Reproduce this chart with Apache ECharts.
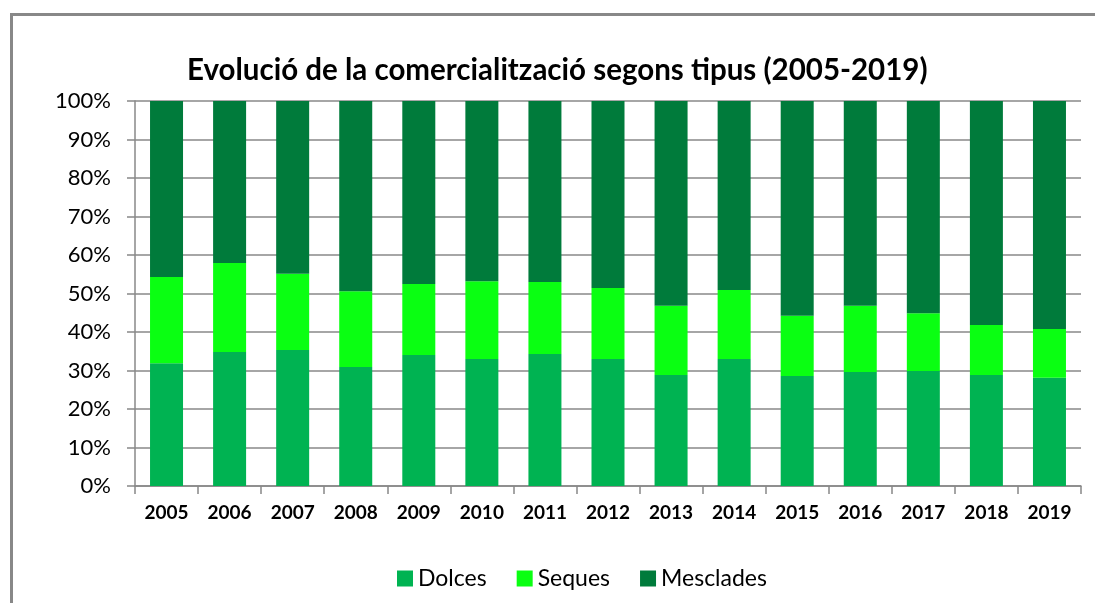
<!DOCTYPE html>
<html>
<head>
<meta charset="utf-8">
<script src="https://cdn.jsdelivr.net/npm/echarts@6/dist/echarts.min.js"></script>
<style>
html,body{margin:0;padding:0;background:#fff;}
#chart{width:1095px;height:603px;}
</style>
</head>
<body>
<div id="chart"></div>
<script>
const years = ['2005','2006','2007','2008','2009','2010','2011','2012','2013','2014','2015','2016','2017','2018','2019'];
const dolces    = [31.9, 34.8, 35.3, 30.9, 34.0, 33.0, 34.3, 33.0, 28.8, 33.0, 28.6, 29.6, 29.9, 28.8, 28.1];
const seques    = [22.4, 23.1, 19.8, 19.7, 18.5, 20.2, 18.7, 18.4, 18.0, 17.9, 15.6, 17.2, 15.0, 13.0, 12.7];
const mesclades = [45.7, 42.1, 44.9, 49.4, 47.5, 46.8, 47.0, 48.6, 53.2, 49.1, 55.8, 53.2, 55.1, 58.2, 59.2];
const seriesNames = ['Dolces', 'Seques', 'Mesclades'];
const titleText = 'Evolució de la comercialització segons tipus (2005-2019)';

const font = 'Lato, "Open Sans", sans-serif';
const chart = echarts.init(document.getElementById('chart'), null, {renderer: 'canvas'});
const colors = ['#00b352', '#0aff12', '#007b3b'];
const dataSets = [dolces, seques, mesclades];

chart.setOption({
  animation: false,
  backgroundColor: '#ffffff',
  title: {
    text: titleText,
    left: 182,
    top: 50,
    textStyle: {fontFamily: font, fontSize: 29.5, fontWeight: 'bold', color: '#000'}
  },
  legend: {
    data: seriesNames,
    bottom: 8,
    left: 392,
    icon: 'rect',
    itemWidth: 16,
    itemHeight: 16,
    itemGap: 30,
    textStyle: {fontFamily: font, fontSize: 23, color: '#000'}
  },
  grid: {left: 135, right: 14, top: 101, bottom: 117, containLabel: false},
  xAxis: {
    type: 'category',
    data: years,
    boundaryGap: true,
    axisLine: {show: true, lineStyle: {color: '#888', width: 1.5}},
    axisTick: {show: true, length: 8, alignWithLabel: false, lineStyle: {color: '#888', width: 1.5}},
    axisLabel: {fontFamily: font, fontSize: 19, fontWeight: 'bold', color: '#000', margin: 17, interval: 0}
  },
  yAxis: {
    type: 'value',
    min: 0,
    max: 100,
    interval: 10,
    axisLine: {show: true, lineStyle: {color: '#888', width: 1.5}},
    axisTick: {show: true, length: 8, lineStyle: {color: '#888', width: 1.5}},
    splitLine: {show: true, lineStyle: {color: '#888', width: 1.5}},
    axisLabel: {fontFamily: font, fontSize: 22, color: '#000', margin: 24, formatter: '{value}%'}
  },
  graphic: [{
    type: 'rect',
    shape: {x: 11.5, y: 14.5, width: 1200, height: 800},
    style: {fill: 'none', stroke: '#888', lineWidth: 3},
    silent: true,
    z: 100
  }],
  series: seriesNames.map((n, i) => ({
    name: n,
    type: 'bar',
    stack: 'total',
    barWidth: 33,
    itemStyle: {color: colors[i]},
    data: dataSets[i]
  }))
});
</script>
</body>
</html>
